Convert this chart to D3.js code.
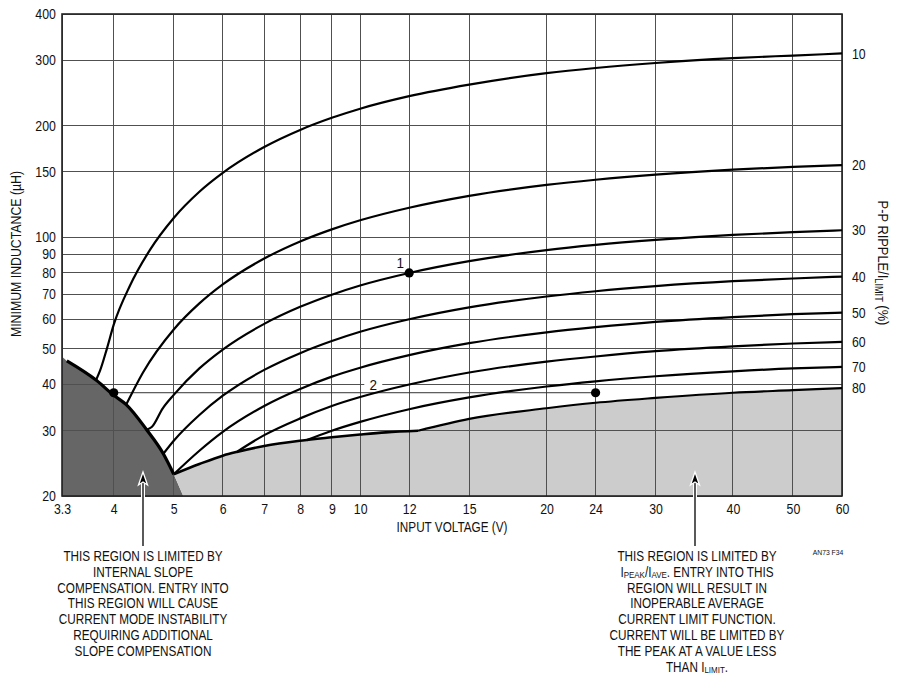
<!DOCTYPE html>
<html><head><meta charset="utf-8">
<script src="https://cdn.jsdelivr.net/npm/d3@7"></script>
<style>
body{margin:0;background:#fff;}
svg text{font-family:"Liberation Sans",Arial,sans-serif;fill:#111;}
</style></head>
<body>
<svg id="c" width="900" height="685"></svg>
<script>
// ---- data ----
const xTicks = [3.3,4,5,6,7,8,9,10,12,15,20,24,30,40,50,60];
const yTicks = [20,30,40,50,60,70,80,90,100,150,200,300,400];
const yTickLabels = ["20","30","40","50","60","70","80","90","100","150","200","300","400"];
const rippleLabels = ["10","20","30","40","50","60","70","80"];

const curve10 = [[3.745,41.1],[3.8,43.5],[3.9,50],[4,58],[4.25,74],[4.58,92.5],[5,112.6],[5.5,132.5],[6,149],[7,175],[8,194.6],[9,209.8],[10,222],[12,240],[15,258],[20,277],[24,286],[30,295],[40,304],[50,309],[60,313]];
const curve20 = [[4.19,35.3],[4.46,43.1],[5,56.3],[5.5,66.2],[6,74.5],[7,87.5],[8,97.3],[9,104.9],[10,111],[12,120],[15,129.2],[20,138.3],[24,142.8],[30,147.4],[40,152],[50,154.7],[60,156.3]];
const curve30 = [[4.52,30.2],[4.607,30.7],[4.8,34.5],[5,37.5],[5.5,44.2],[6,49.7],[7,58.3],[8,64.8],[9,69.9],[10,74],[12,80],[15,86.1],[20,92.2],[24,95.2],[30,98.2],[40,101.3],[50,103.1],[60,104.3]];
const curve40 = [[4.81,26],[5,28.2],[5.5,33.1],[6,37.3],[7,43.8],[8,48.6],[9,52.4],[10,55.5],[12,60],[15,64.6],[20,69.1],[24,71.4],[30,73.7],[40,76],[50,77.3],[60,78.2]];
const curve50 = [[5,22.9],[5.5,26.5],[6,29.8],[7,35],[8,38.9],[9,42],[10,44.4],[12,48],[15,51.7],[20,55.3],[24,57.1],[30,59],[40,60.8],[50,61.9],[60,62.5]];
const curve60 = [[6.32,26.3],[7,29.2],[8,32.4],[9,35],[10,37],[12,40],[15,43.1],[20,46.1],[24,47.6],[30,49.2],[40,50.7],[50,51.6],[60,52.1]];
const curve70 = [[8.2,28.3],[9,30],[10,31.7],[12,34.3],[15,36.9],[20,39.5],[24,40.8],[30,42.1],[40,43.4],[50,44.2],[60,44.6]];
const curve80 = [[12.4,30],[15,32.3],[20,34.5],[24,35.7],[30,36.8],[40,38],[50,38.6],[60,39.1]];
const slopeBoundary = [[3.3,47.5],[3.36,46.3],[3.745,41.1],[4,37.4],[4.19,35.3],[4.52,30.2],[4.81,26],[5,22.9]];
const slopeFoot = [5.18,20];
const peakEnvelope = [[5,22.9],[5.5,24.4],[6,25.7],[6.32,26.3],[7,27.3],[8,28.2],[9,28.8],[10,29.3],[11,29.7],[12.4,30]];
const dots = [[4,38],[12,80],[24,38]];
const refLine = [[4,38],[24,38]];
const curves = [curve10,curve20,curve30,curve40,curve50,curve60,curve70,curve80];

const leftNote = ["THIS REGION IS LIMITED BY","INTERNAL SLOPE","COMPENSATION. ENTRY INTO","THIS REGION WILL CAUSE","CURRENT MODE INSTABILITY","REQUIRING ADDITIONAL","SLOPE COMPENSATION"];

// ---- layout ----
const SX = 0.84;   // horizontal condensing to mimic the narrow typeface
const svg = d3.select("#c");
const x = d3.scaleLog().domain([3.3,60]).range([62,842]);
const y = d3.scaleLog().domain([20,400]).range([496,14]);
const line = d3.line().x(d=>x(d[0])).y(d=>y(d[1])).curve(d3.curveMonotoneX);

function ntext(px, py, size, anchor, sx, rot){
  const gg = svg.append("g").attr("transform",`translate(${px},${py})${rot?` rotate(${rot})`:""} scale(${sx},1)`);
  return gg.append("text").attr("text-anchor",anchor).attr("font-size",size);
}

// shaded regions
svg.append("path")
  .attr("d", line(slopeBoundary) + `L${x(slopeFoot[0])},${y(slopeFoot[1])}L${x(3.3)},${y(20)}Z`)
  .attr("fill","#666");
svg.append("path")
  .attr("d", line(peakEnvelope.concat(curve80.slice(1))) + `L${x(60)},${y(20)}L${x(slopeFoot[0])},${y(slopeFoot[1])}Z`)
  .attr("fill","#cccccc");

// grid
const g = svg.append("g").attr("stroke","#505050").attr("stroke-width",1).attr("shape-rendering","crispEdges");
xTicks.forEach(v=>g.append("line").attr("x1",x(v)).attr("x2",x(v)).attr("y1",y(20)).attr("y2",y(400)));
yTicks.forEach(v=>g.append("line").attr("x1",x(3.3)).attr("x2",x(60)).attr("y1",y(v)).attr("y2",y(v)));

// axes (ticks hidden, labels from scales)
const xAxis = d3.axisBottom(x).tickValues(xTicks).tickFormat(d=>String(d)).tickSize(0).tickPadding(8);
const xa = svg.append("g").attr("transform",`translate(0,${y(20)})`).call(xAxis);
xa.select(".domain").remove();
xa.selectAll("text").attr("font-size",14).attr("font-family",null).attr("fill","#111").attr("transform","scale(0.88,1)").attr("x",0);
const yAxis = d3.axisLeft(y).tickValues(yTicks).tickFormat((d,i)=>yTickLabels[i]).tickSize(0).tickPadding(7);
const ya = svg.append("g").attr("transform",`translate(${x(3.3)},0)`).call(yAxis);
ya.select(".domain").remove();
ya.selectAll("text").attr("font-size",14).attr("font-family",null).attr("fill","#111").attr("transform","scale(0.88,1)");

// frame
svg.append("rect").attr("x",x(3.3)).attr("y",y(400)).attr("width",x(60)-x(3.3)).attr("height",y(20)-y(400))
  .attr("fill","none").attr("stroke","#222").attr("stroke-width",1.6);

// "2" label on 40 gridline
const l2x = x(10.5), l2y = y(40);
svg.append("rect").attr("x",l2x-9).attr("y",l2y-7).attr("width",18).attr("height",14).attr("fill","#fff");
ntext(l2x,l2y,15,"middle",0.9).attr("dy","0.36em").text("2");

// reference line between points
svg.append("path").attr("d",d3.line().x(d=>x(d[0])).y(d=>y(d[1]))(refLine)).attr("stroke","#333").attr("stroke-width",1).attr("fill","none");

// curves
curves.forEach(c=>svg.append("path").attr("d",line(c)).attr("fill","none").attr("stroke","#000").attr("stroke-width",2.2));
svg.append("path").attr("d",line(peakEnvelope)).attr("fill","none").attr("stroke","#000").attr("stroke-width",2.6);
svg.append("path").attr("d",line(slopeBoundary.slice(1))).attr("fill","none").attr("stroke","#000").attr("stroke-width",3.2);

// dots
dots.forEach(d=>svg.append("circle").attr("cx",x(d[0])).attr("cy",y(d[1])).attr("r",4.6).attr("fill","#000"));
ntext(x(12)-9,y(80)-10,15,"middle",0.9).attr("dy","0.36em").text("1");

// right ripple labels
curves.forEach((c,i)=>{
  ntext(x(60)+10,y(c[c.length-1][1]),14,"start",0.88).attr("dy","0.36em").text(rippleLabels[i]);
});

// axis titles
ntext(452,532,14,"middle",SX).text("INPUT VOLTAGE (V)");
ntext(21,254,14,"middle",0.88,-90).text("MINIMUM INDUCTANCE (µH)");
const rt = ntext(878,263,14,"middle",0.92,90);
rt.append("tspan").text("P-P RIPPLE/I");
rt.append("tspan").attr("font-size",10).attr("dy",2.5).text("LIMIT");
rt.append("tspan").attr("dy",-2.5).text(" (%)");

// arrows
function arrow(ax){
  const tip = 472, bot = 546;
  svg.append("line").attr("x1",ax).attr("x2",ax).attr("y1",tip+6).attr("y2",bot).attr("stroke","#fff").attr("stroke-width",4);
  svg.append("line").attr("x1",ax).attr("x2",ax).attr("y1",tip+6).attr("y2",bot).attr("stroke","#000").attr("stroke-width",1.3);
  svg.append("path").attr("d",`M${ax},${tip}L${ax-4.5},${tip+13}L${ax},${tip+10}L${ax+4.5},${tip+13}Z`)
    .attr("fill","#000").attr("stroke","#fff").attr("stroke-width",1.3);
}
arrow(143);
arrow(695);

// notes
leftNote.forEach((t,i)=>ntext(143,561+i*15.8,14,"middle",SX).text(t));

const rx = 697, r0 = 561, rs = 15.8;
function rline(i, parts){
  const t = ntext(rx,r0+i*rs,14,"middle",SX);
  parts.forEach(p=>{
    const s = t.append("tspan").text(p[0]);
    if(p[1]==="sub") s.attr("font-size",9.5).attr("dy",1.5);
    if(p[1]==="up") s.attr("dy",-1.5);
  });
}
rline(0,[["THIS REGION IS LIMITED BY"]]);
rline(1,[["I"],["PEAK","sub"],["/I","up"],["AVE","sub"],[". ENTRY INTO THIS","up"]]);
rline(2,[["REGION WILL RESULT IN"]]);
rline(3,[["INOPERABLE AVERAGE"]]);
rline(4,[["CURRENT LIMIT FUNCTION."]]);
rline(5,[["CURRENT WILL BE LIMITED BY"]]);
rline(6,[["THE PEAK AT A VALUE LESS"]]);
rline(7,[["THAN I"],["LIMIT","sub"],[".","up"]]);

ntext(828,555,8,"middle",0.85).text("AN73 F34");
</script>
</body></html>
